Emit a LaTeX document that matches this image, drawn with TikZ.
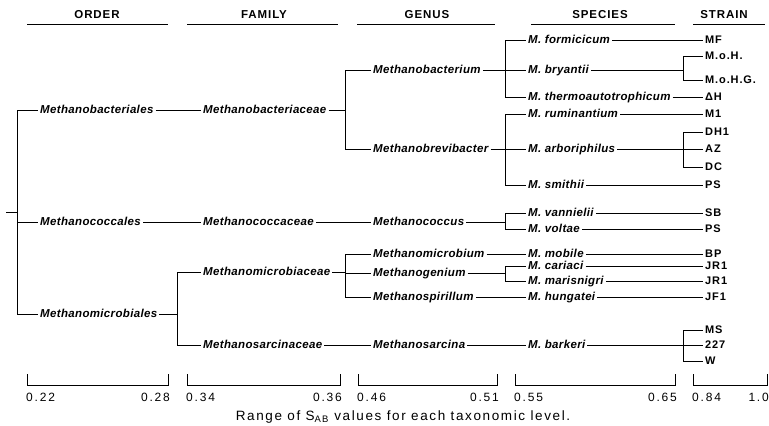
\documentclass[tikz,border=0pt]{standalone}
\usepackage{fontspec}
\setmainfont{Liberation Sans}
\newfontfamily\labff[LetterSpace=3]{Liberation Sans}
\newfontfamily\strff[LetterSpace=8]{Liberation Sans}
\newfontfamily\hdrff[LetterSpace=8]{Liberation Sans}
\newfontfamily\numff[LetterSpace=15]{Liberation Sans}
\newfontfamily\capff[LetterSpace=12]{Liberation Sans}
\newcommand\labfont{\labff\bfseries\itshape\fontsize{11.5}{13}\selectfont}
\newcommand\strfont{\strff\bfseries\fontsize{11}{12}\selectfont}
\newcommand\hdrfont{\hdrff\bfseries\fontsize{11.5}{13}\selectfont}
\newcommand\numfont{\numff\fontsize{12}{14}\selectfont}
\newcommand\capfont{\capff\fontsize{13.5}{15}\selectfont}
\begin{document}
\begin{tikzpicture}[x=1pt,y=-1pt,
  ln/.style={line width=0.7pt},
  ul/.style={line width=1pt},
  lab/.style={anchor=west,font=\labfont,inner xsep=2pt,inner ysep=0pt,text height=7pt,text depth=1pt},
  str/.style={anchor=west,font=\strfont,inner xsep=2pt,inner ysep=0pt,text height=7pt,text depth=1pt},
  hdr/.style={font=\hdrfont,inner sep=0pt},
  num/.style={font=\numfont,inner sep=0pt},
]
\useasboundingbox (0,0) rectangle (769,426);
% headers
\node[hdr] (hO) at (97,15) {ORDER};
\node[hdr] (hF) at (264,15) {FAMILY};
\node[hdr] (hG) at (427,15) {GENUS};
\node[hdr] (hS) at (600,15) {SPECIES};
\node[hdr] (hT) at (724,15) {STRAIN};
\draw[ul] (27,24) -- (168,24);
\draw[ul] (187,24) -- (338,24);
\draw[ul] (357,24) -- (495,24);
\draw[ul] (531,24) -- (675,24);
\draw[ul] (693,24) -- (765,24);
% orders
\node[lab] (o1) at (38,110) {Methanobacteriales};
\node[lab] (o2) at (38,222) {Methanococcales};
\node[lab] (o3) at (38,314) {Methanomicrobiales};
% families
\node[lab] (f1) at (201,110) {Methanobacteriaceae};
\node[lab] (f2) at (201,222) {Methanococcaceae};
\node[lab] (f3) at (201,272) {Methanomicrobiaceae};
\node[lab] (f4) at (201,345) {Methanosarcinaceae};
% genera
\node[lab] (g1) at (371,70) {Methanobacterium};
\node[lab] (g2) at (371,149) {Methanobrevibacter};
\node[lab] (g3) at (371,222) {Methanococcus};
\node[lab] (g4) at (371,254) {Methanomicrobium};
\node[lab] (g5) at (371,273) {Methanogenium};
\node[lab] (g6) at (371,297) {Methanospirillum};
\node[lab] (g7) at (371,345) {Methanosarcina};
% species
\node[lab] (s1) at (526,40) {M. formicicum};
\node[lab] (s2) at (526,70) {M. bryantii};
\node[lab] (s3) at (526,97) {M. thermoautotrophicum};
\node[lab] (s4) at (526,114) {M. ruminantium};
\node[lab] (s5) at (526,149) {M. arboriphilus};
\node[lab] (s6) at (526,185) {M. smithii};
\node[lab] (s7) at (526,213) {M. vannielii};
\node[lab] (s8) at (526,229) {M. voltae};
\node[lab] (s9) at (526,254) {M. mobile};
\node[lab] (s10) at (526,266) {M. cariaci};
\node[lab] (s11) at (526,281) {M. marisnigri};
\node[lab] (s12) at (526,297) {M. hungatei};
\node[lab] (s13) at (526,345) {M. barkeri};
% strains
\node[str] (t1) at (703,40) {MF};
\node[str] (t2) at (703,56) {M.o.H.};
\node[str] (t3) at (703,80) {M.o.H.G.};
\node[str] (t4) at (703,97) {ΔH};
\node[str] (t5) at (703,114) {M1};
\node[str] (t6) at (703,132) {DH1};
\node[str] (t7) at (703,149) {AZ};
\node[str] (t8) at (703,167) {DC};
\node[str] (t9) at (703,185) {PS};
\node[str] (t10) at (703,213) {SB};
\node[str] (t11) at (703,229) {PS};
\node[str] (t12) at (703,254) {BP};
\node[str] (t13) at (703,266) {JR1};
\node[str] (t14) at (703,281) {JR1};
\node[str] (t15) at (703,297) {JF1};
\node[str] (t16) at (703,330) {MS};
\node[str] (t17) at (703,345) {227};
\node[str] (t18) at (703,361) {W};
% junction coordinates
\coordinate (r) at (17,212);
\coordinate (rt) at (17,110);
\coordinate (rm) at (17,222);
\coordinate (rb) at (17,314);
\coordinate (rtick) at (6,212);
\coordinate (jb) at (345,110);
\coordinate (jbt) at (345,70);
\coordinate (jbb) at (345,149);
\coordinate (jm) at (177,314);
\coordinate (jmt) at (177,272);
\coordinate (jmb) at (177,345);
\coordinate (jf) at (345,272);
\coordinate (jft) at (345,254);
\coordinate (jfm) at (345,273);
\coordinate (jfb) at (345,297);
\coordinate (k1) at (505,70);
\coordinate (k1t) at (505,40);
\coordinate (k1b) at (505,97);
\coordinate (k2) at (505,149);
\coordinate (k2t) at (505,114);
\coordinate (k2b) at (505,185);
\coordinate (k3) at (505,222);
\coordinate (k3t) at (505,213);
\coordinate (k3b) at (505,229);
\coordinate (k4) at (505,273);
\coordinate (k4t) at (505,266);
\coordinate (k4b) at (505,281);
\coordinate (m1) at (683,70);
\coordinate (m1t) at (683,56);
\coordinate (m1b) at (683,80);
\coordinate (m2t) at (683,132);
\coordinate (m2b) at (683,167);
\coordinate (m3t) at (683,330);
\coordinate (m3b) at (683,361);
% root
\draw[ln] (rtick) -- (r);
\draw[ln] (rt) -- (rb);
\draw[ln] (rt) -- (o1.west);
\draw[ln] (rm) -- (o2.west);
\draw[ln] (rb) -- (o3.west);
% order -> family
\draw[ln] (o1.east) -- (f1.west);
\draw[ln] (o2.east) -- (f2.west);
\draw[ln] (o3.east) -- (jm);
\draw[ln] (jmt) -- (jmb);
\draw[ln] (jmt) -- (f3.west);
\draw[ln] (jmb) -- (f4.west);
% family -> genus
\draw[ln] (f1.east) -- (jb);
\draw[ln] (jbt) -- (jbb);
\draw[ln] (jbt) -- (g1.west);
\draw[ln] (jbb) -- (g2.west);
\draw[ln] (f2.east) -- (g3.west);
\draw[ln] (f3.east) -- (jf);
\draw[ln] (jft) -- (jfb);
\draw[ln] (jft) -- (g4.west);
\draw[ln] (jfm) -- (g5.west);
\draw[ln] (jfb) -- (g6.west);
\draw[ln] (f4.east) -- (g7.west);
% genus -> species
\draw[ln] (g1.east) -- (k1);
\draw[ln] (k1t) -- (k1b);
\draw[ln] (k1t) -- (s1.west);
\draw[ln] (k1) -- (s2.west);
\draw[ln] (k1b) -- (s3.west);
\draw[ln] (g2.east) -- (k2);
\draw[ln] (k2t) -- (k2b);
\draw[ln] (k2t) -- (s4.west);
\draw[ln] (k2) -- (s5.west);
\draw[ln] (k2b) -- (s6.west);
\draw[ln] (g3.east) -- (k3);
\draw[ln] (k3t) -- (k3b);
\draw[ln] (k3t) -- (s7.west);
\draw[ln] (k3b) -- (s8.west);
\draw[ln] (g4.east) -- (s9.west);
\draw[ln] (g5.east) -- (k4);
\draw[ln] (k4t) -- (k4b);
\draw[ln] (k4t) -- (s10.west);
\draw[ln] (k4b) -- (s11.west);
\draw[ln] (g6.east) -- (s12.west);
\draw[ln] (g7.east) -- (s13.west);
% species -> strain
\draw[ln] (s1.east) -- (t1.west);
\draw[ln] (s2.east) -- (m1);
\draw[ln] (m1t) -- (m1b);
\draw[ln] (m1t) -- (t2.west);
\draw[ln] (m1b) -- (t3.west);
\draw[ln] (s3.east) -- (t4.west);
\draw[ln] (s4.east) -- (t5.west);
\draw[ln] (s5.east) -- (t7.west);
\draw[ln] (m2t) -- (m2b);
\draw[ln] (m2t) -- (t6.west);
\draw[ln] (m2b) -- (t8.west);
\draw[ln] (s6.east) -- (t9.west);
\draw[ln] (s7.east) -- (t10.west);
\draw[ln] (s8.east) -- (t11.west);
\draw[ln] (s9.east) -- (t12.west);
\draw[ln] (s10.east) -- (t13.west);
\draw[ln] (s11.east) -- (t14.west);
\draw[ln] (s12.east) -- (t15.west);
\draw[ln] (s13.east) -- (t17.west);
\draw[ln] (m3t) -- (m3b);
\draw[ln] (m3t) -- (t16.west);
\draw[ln] (m3b) -- (t18.west);
% range brackets
\draw[ln] (27,374) |- (168,385) -- (168,374);
\draw[ln] (187,374) |- (340,385) -- (340,374);
\draw[ln] (358,374) |- (497,385) -- (497,374);
\draw[ln] (515,374) |- (675,385) -- (675,374);
\draw[ln] (693,374) |- (767,385) -- (767,374);
\node[num,anchor=west] (n1) at (26,397) {0.22};
\node[num,anchor=east] (n2) at (170,397) {0.28};
\node[num,anchor=west] (n3) at (186,397) {0.34};
\node[num,anchor=east] (n4) at (342,397) {0.36};
\node[num,anchor=west] (n5) at (357,397) {0.46};
\node[num,anchor=east] (n6) at (499,397) {0.51};
\node[num,anchor=west] (n7) at (514,397) {0.55};
\node[num,anchor=east] (n8) at (677,397) {0.65};
\node[num,anchor=west] (n9) at (692,397) {0.84};
\node[num,anchor=east] (n10) at (769,397) {1.0};
\node[font=\capfont,inner sep=0pt] (cap) at (403,417) {Range of S\textsubscript{AB} values for each taxonomic level.};
\end{tikzpicture}
\end{document}
